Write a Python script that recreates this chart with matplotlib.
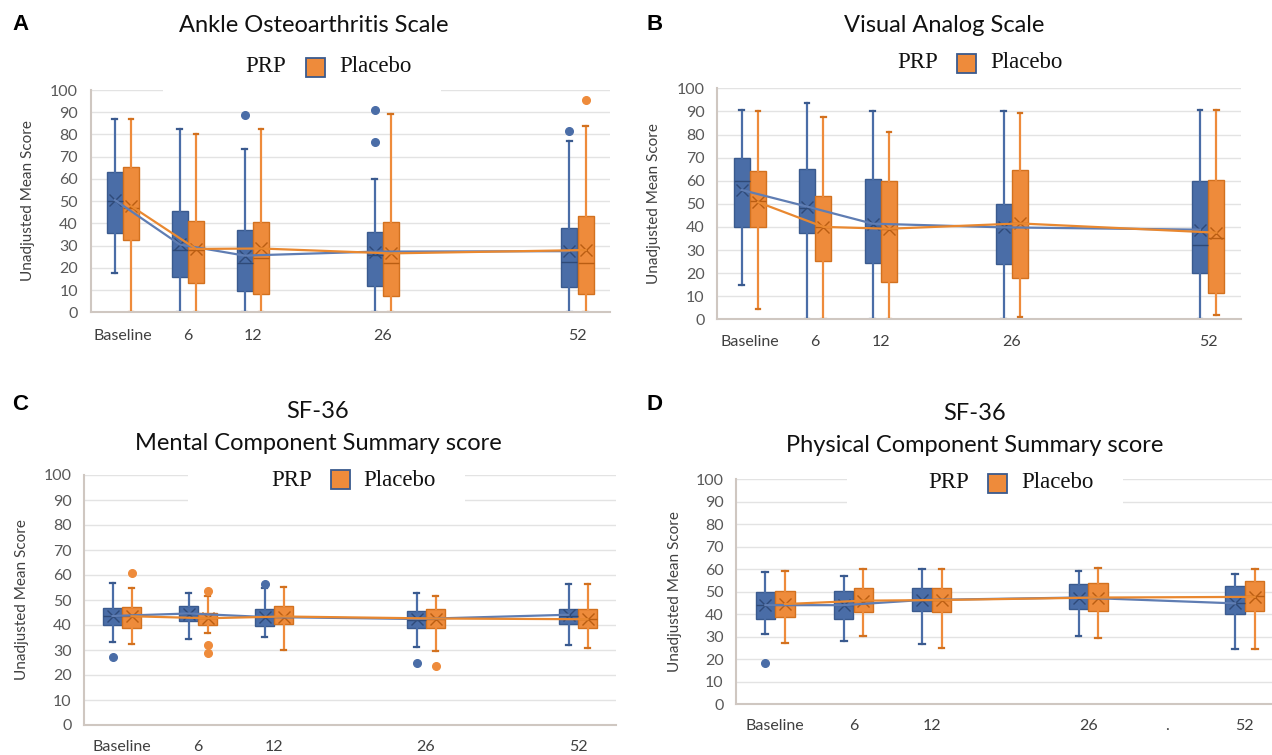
import matplotlib
matplotlib.use("Agg")
import matplotlib.pyplot as plt
from matplotlib.patches import Rectangle

# ---------------- DATA ----------------
CATEGORIES = ["Baseline", "6", "12", "26", "52"]

# Panel A - Ankle Osteoarthritis Scale
A_PRP_LO = [17.8, 0.3, 0.3, 0, 0]
A_PRP_Q1 = [35.8, 16, 9.8, 11.8, 11.2]
A_PRP_MED = [50, 28, 22, 26, 22.5]
A_PRP_Q3 = [63.3, 45.7, 37, 36, 38]
A_PRP_HI = [86.8, 82.3, 73.6, 60, 76.9]
A_PRP_MEAN = [50.5, 30.5, 25.5, 27.3, 27.5]
A_PRP_OUT = [[], [], [88.8], [91, 76.6], [81.6]]
A_PLA_LO = [0, 0, 0, 0, 0]
A_PLA_Q1 = [32.5, 13, 8.4, 7.3, 8.4]
A_PLA_MED = [47, 28, 24.5, 22.3, 22.4]
A_PLA_Q3 = [65.2, 41.2, 40.7, 40.5, 43.3]
A_PLA_HI = [86.8, 80, 82.5, 89.2, 83.6]
A_PLA_MEAN = [47.8, 28.5, 28.7, 26.5, 28]
A_PLA_OUT = [[], [], [], [], [95.5]]

# Panel B - Visual Analog Scale
B_PRP_LO = [14.9, 0, 0, 0, 0]
B_PRP_Q1 = [40, 37.2, 24.2, 23.8, 20]
B_PRP_MED = [60, 48, 40, 40, 32]
B_PRP_Q3 = [69.7, 65, 60.8, 50, 59.7]
B_PRP_HI = [90.6, 93.8, 90, 90.3, 90.6]
B_PRP_MEAN = [56, 48.8, 41.4, 39.8, 38.8]
B_PRP_OUT = [[], [], [], [], []]
B_PLA_LO = [4.3, 0, 0, 1, 1.9]
B_PLA_Q1 = [40, 25.3, 16.1, 18, 11.3]
B_PLA_MED = [51, 40, 39, 41.5, 35]
B_PLA_Q3 = [64.4, 53.4, 59.7, 64.8, 60.1]
B_PLA_HI = [90, 87.5, 81.1, 89.2, 90.6]
B_PLA_MEAN = [50.7, 40, 39.2, 41.5, 37.5]
B_PLA_OUT = [[], [], [], [], []]

# Panel C - SF-36 Mental Component Summary score
C_PRP_LO = [33.3, 34.4, 35.3, 31.1, 31.9]
C_PRP_Q1 = [40, 41.7, 39.6, 38.7, 40.3]
C_PRP_MED = [43.5, 44.5, 43.2, 42.2, 43.8]
C_PRP_Q3 = [46.9, 47.6, 46.3, 45.7, 46.6]
C_PRP_HI = [57, 53, 55, 53, 56.4]
C_PRP_MEAN = [43.6, 44.6, 43.2, 42.4, 44.1]
C_PRP_OUT = [[27.1], [], [56.4], [25], []]
C_PLA_LO = [32.3, 36.9, 30.2, 29.6, 30.9]
C_PLA_Q1 = [38.7, 40, 40.3, 38.7, 38.9]
C_PLA_MED = [43.5, 42.7, 43.4, 42.5, 42.5]
C_PLA_Q3 = [47.3, 45, 47.7, 46.4, 46.6]
C_PLA_HI = [54.7, 51.6, 55.3, 51.6, 56.4]
C_PLA_MEAN = [43.5, 42.7, 43.4, 42.6, 42.3]
C_PLA_OUT = [[61], [53.6, 32, 28.9], [], [23.7], []]

# Panel D - SF-36 Physical Component Summary score
D_PRP_LO = [31, 28, 26.8, 30.3, 24.7]
D_PRP_Q1 = [37.8, 37.8, 41.6, 42.5, 40]
D_PRP_MED = [44, 44, 46.5, 47.5, 45]
D_PRP_Q3 = [49.7, 50.5, 51.8, 53.3, 52.6]
D_PRP_HI = [58.7, 57, 59.9, 59.4, 57.9]
D_PRP_MEAN = [44, 44, 46.3, 47.4, 44.8]
D_PRP_OUT = [[18.4], [], [], [], []]
D_PLA_LO = [27.3, 30.2, 25, 29.2, 24.3]
D_PLA_Q1 = [38.9, 41, 40.9, 41.5, 41.5]
D_PLA_MED = [44.5, 46, 46.3, 47.4, 48]
D_PLA_Q3 = [50.5, 51.5, 51.5, 53.7, 54.9]
D_PLA_HI = [59.4, 60, 59.9, 60.4, 60]
D_PLA_MEAN = [44.5, 46, 46.3, 47.4, 47.7]
D_PLA_OUT = [[], [], [], [], []]

Y_TICKS = [0, 10, 20, 30, 40, 50, 60, 70, 80, 90, 100]

# ---------------- STYLE / LAYOUT ----------------
W, H = 1272, 755
SANS = ["Lato", "DejaVu Sans"]
SERIF = ["Liberation Serif", "DejaVu Serif"]
BLUE = "#4a6da7"
BLUE_EDGE = "#3a5a8e"
BLUE_DARK = "#2f4a78"
BLUE_LINE = "#5f7db3"
ORANGE = "#ee8b3b"
ORANGE_EDGE = "#d2711f"
ORANGE_DARK = "#b95d12"
ORANGE_LINE = "#e98830"
GRID = "#e3e3e3"
SPINE = "#cfc7c1"

fig = plt.figure(figsize=(W / 100, H / 100), dpi=100)
fig.patch.set_facecolor("white")


def px_axes(left, right, top, bottom):
    return fig.add_axes([left / W, 1 - bottom / H, (right - left) / W, (bottom - top) / H])


def ftext(x, y, s, **kw):
    fig.text(x / W, 1 - y / H, s, **kw)


def make_stats(lo, q1, med, q3, hi, mean, out):
    return [dict(whislo=a, q1=b, med=c, q3=d, whishi=e, mean=f, fliers=g)
            for a, b, c, d, e, f, g in zip(lo, q1, med, q3, hi, mean, out)]


def draw_group(ax, pos, stats, fill, edge, dark, line, width):
    ax.bxp(stats, positions=pos, widths=width, patch_artist=True, showmeans=True,
           manage_ticks=False, capwidths=width * 0.3,
           boxprops=dict(facecolor=fill, edgecolor=edge, linewidth=1.0),
           medianprops=dict(color=dark, linewidth=1.0),
           whiskerprops=dict(color=fill, linewidth=1.6),
           capprops=dict(color=edge, linewidth=1.6),
           flierprops=dict(marker="o", markerfacecolor=fill, markeredgecolor=fill,
                           markersize=5.5),
           meanprops=dict(marker="x", markeredgecolor=dark, markersize=9,
                          markeredgewidth=1.0))
    ax.plot(pos, [s["mean"] for s in stats], color=line, linewidth=1.6, zorder=4)


def panel(left, right, top, bottom, ncat, slots, prp, pla, labels, label_slots, xpad):
    ax = px_axes(left, right, top, bottom)
    ax.set_xlim(0, ncat)
    ax.set_ylim(0, 100)
    ax.set_yticks(Y_TICKS)
    ax.set_yticklabels([str(v) for v in Y_TICKS], fontfamily=SANS, fontsize=11.5,
                       color="#595959")
    ax.set_xticks(label_slots)
    ax.set_xticklabels(labels, fontfamily=SANS, fontsize=11.5, color="#404040")
    ax.tick_params(axis="both", length=0)
    ax.tick_params(axis="y", pad=9)
    ax.tick_params(axis="x", pad=xpad)
    for y in Y_TICKS[1:]:
        ax.axhline(y, color=GRID, linewidth=1.0, zorder=0)
    for s in ["top", "right"]:
        ax.spines[s].set_visible(False)
    for s in ["left", "bottom"]:
        ax.spines[s].set_color(SPINE)
        ax.spines[s].set_linewidth(1.5)
    bw = 0.245
    off = 0.125
    draw_group(ax, [p - off for p in slots], prp, BLUE, BLUE_EDGE, BLUE_DARK, BLUE_LINE, bw)
    draw_group(ax, [p + off for p in slots], pla, ORANGE, ORANGE_EDGE, ORANGE_DARK, ORANGE_LINE, bw)
    return ax


def legend(bg, prp_x, sq_x, pla_x, y):
    x0, x1, y0, y1 = bg
    fig.add_artist(Rectangle((x0 / W, 1 - y1 / H), (x1 - x0) / W, (y1 - y0) / H,
                             transform=fig.transFigure, facecolor="white",
                             edgecolor="none", zorder=10))
    ftext(prp_x, y, "PRP", fontfamily=SERIF, fontsize=16.5, va="center", ha="left",
          color="#111111", zorder=11)
    s = 19
    fig.add_artist(Rectangle((sq_x / W, 1 - (y + s / 2) / H), s / W, s / H,
                             transform=fig.transFigure, facecolor=ORANGE,
                             edgecolor=BLUE_EDGE, linewidth=1.3, zorder=11))
    ftext(pla_x, y, "Placebo", fontfamily=SERIF, fontsize=16.5, va="center", ha="left",
          color="#111111", zorder=11)


def ylabel(x, y):
    ftext(x, y, "Unadjusted Mean Score", fontfamily=SANS, fontsize=11, rotation=90,
          ha="center", va="center", color="#404040")


# Category slot centres (layout)
SLOTS8 = [0.5, 1.5, 2.5, 4.5, 7.5]
SLOTS7 = [0.5, 1.5, 2.5, 4.5, 6.5]

# Panel A
panel(90.5, 610, 90, 312.3, 8, SLOTS8,
      make_stats(A_PRP_LO, A_PRP_Q1, A_PRP_MED, A_PRP_Q3, A_PRP_HI, A_PRP_MEAN, A_PRP_OUT),
      make_stats(A_PLA_LO, A_PLA_Q1, A_PLA_MED, A_PLA_Q3, A_PLA_HI, A_PLA_MEAN, A_PLA_OUT),
      CATEGORIES, SLOTS8, 12)
# Panel B
panel(717, 1241, 88.3, 319.3, 8, SLOTS8,
      make_stats(B_PRP_LO, B_PRP_Q1, B_PRP_MED, B_PRP_Q3, B_PRP_HI, B_PRP_MEAN, B_PRP_OUT),
      make_stats(B_PLA_LO, B_PLA_Q1, B_PLA_MED, B_PLA_Q3, B_PLA_HI, B_PLA_MEAN, B_PLA_OUT),
      CATEGORIES, SLOTS8, 11)
# Panel C
panel(84, 616, 475, 725, 7, SLOTS7,
      make_stats(C_PRP_LO, C_PRP_Q1, C_PRP_MED, C_PRP_Q3, C_PRP_HI, C_PRP_MEAN, C_PRP_OUT),
      make_stats(C_PLA_LO, C_PLA_Q1, C_PLA_MED, C_PLA_Q3, C_PLA_HI, C_PLA_MEAN, C_PLA_OUT),
      CATEGORIES, SLOTS7, 11)
# Panel D (with stray "." label between 26 and 52)
panel(736, 1284, 479.4, 704, 7, SLOTS7,
      make_stats(D_PRP_LO, D_PRP_Q1, D_PRP_MED, D_PRP_Q3, D_PRP_HI, D_PRP_MEAN, D_PRP_OUT),
      make_stats(D_PLA_LO, D_PLA_Q1, D_PLA_MED, D_PLA_Q3, D_PLA_HI, D_PLA_MEAN, D_PLA_OUT),
      CATEGORIES[:4] + ["."] + CATEGORIES[4:], SLOTS7[:4] + [5.5] + SLOTS7[4:], 11)

# Titles and panel letters
TITLE_KW = dict(fontfamily=SANS, fontsize=17, ha="center", va="center", color="#111111")
LETTER_KW = dict(fontfamily=["Liberation Sans", "DejaVu Sans"], fontsize=16,
                 fontweight="bold", ha="left", va="center", color="black")
ftext(12, 25, "A", **LETTER_KW)
ftext(314, 25, "Ankle Osteoarthritis Scale", **TITLE_KW)
ftext(646, 25, "B", **LETTER_KW)
ftext(944, 25, "Visual Analog Scale", **TITLE_KW)
ftext(12, 405, "C", **LETTER_KW)
ftext(318, 412, "SF-36", **TITLE_KW)
ftext(318, 443, "Mental Component Summary score", **TITLE_KW)
ftext(646, 405, "D", **LETTER_KW)
ftext(975, 413, "SF-36", **TITLE_KW)
ftext(975, 446, "Physical Component Summary score", **TITLE_KW)

# Legends
legend((163, 441, 45, 93), 245, 306, 339, 67)
legend((862, 1100, 42, 86), 897, 957, 990, 63)
legend((188, 465, 462, 506), 271, 331, 363, 480)
legend((847, 1123, 465, 510), 928, 988, 1021, 483)

# Y-axis labels
ylabel(28, 201)
ylabel(654, 204)
ylabel(22, 600)
ylabel(675, 592)

fig.savefig("out.png", dpi=100)
